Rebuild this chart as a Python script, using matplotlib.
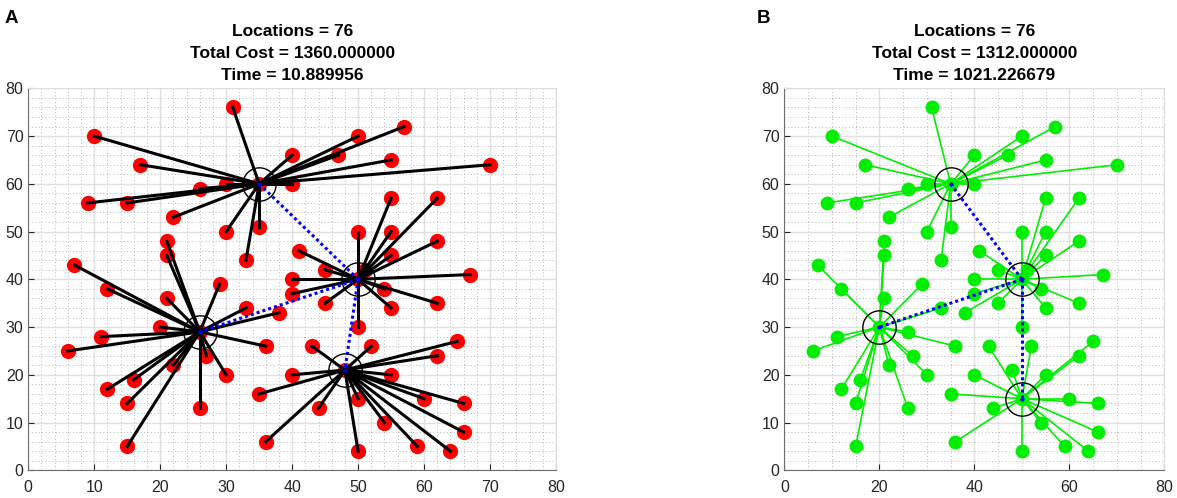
import matplotlib
matplotlib.use('Agg')
import matplotlib.pyplot as plt
from matplotlib.ticker import MultipleLocator

plt.rcParams['font.family'] = ['Liberation Sans', 'DejaVu Sans']

# Customer locations (same in both panels)
loc_x = [31, 10, 17, 9, 15, 26, 30, 35, 22, 30, 35, 33, 21, 21, 7, 40, 40, 41, 29, 40,
         50, 57, 47, 55, 70, 55, 62, 50, 55, 62, 55, 45, 67, 50, 54, 12, 21, 33, 38, 40,
         20, 11, 6, 26, 36, 27, 22, 30, 16, 12, 15, 26, 15, 35, 40, 36, 45, 55, 62, 50,
         43, 52, 65, 62, 48, 55, 50, 60, 66, 44, 54, 66, 59, 64, 50, 51]
loc_y = [76, 70, 64, 56, 56, 59, 60, 60, 53, 50, 51, 44, 48, 45, 43, 66, 60, 46, 39, 40,
         70, 72, 66, 65, 64, 57, 57, 50, 50, 48, 45, 42, 41, 40, 38, 38, 36, 34, 33, 37,
         30, 28, 25, 29, 26, 24, 22, 20, 19, 17, 14, 13, 5, 16, 20, 6, 35, 34, 35, 30,
         26, 26, 27, 24, 21, 20, 15, 15, 14, 13, 10, 8, 5, 4, 4, 42]

# Panel A: facilities and assignment (index into facility list)
fac_a_x = [35, 50, 26, 48]
fac_a_y = [60, 40, 29, 21]
assign_a = [0, 0, 0, 0, 0, 0, 0, 0, 0, 0, 0, 0, 2, 2, 2, 0, 0, 1, 2, 1,
            0, 0, 0, 0, 0, 1, 1, 1, 1, 1, 1, 1, 1, 1, 1, 2, 2, 2, 2, 1,
            2, 2, 2, 2, 2, 2, 2, 2, 2, 2, 2, 2, 2, 3, 3, 3, 1, 1, 1, 1,
            3, 3, 3, 3, 3, 3, 3, 3, 3, 3, 3, 3, 3, 3, 3, 1]
title_a = 'Locations = 76\nTotal Cost = 1360.000000\nTime = 10.889956'

# Panel B
fac_b_x = [35, 50, 20, 50]
fac_b_y = [60, 40, 30, 15]
assign_b = [0, 0, 0, 0, 0, 0, 0, 0, 0, 0, 0, 0, 2, 2, 2, 0, 0, 1, 2, 1,
            0, 0, 0, 0, 0, 1, 1, 1, 1, 1, 1, 1, 1, 1, 1, 2, 2, 2, 1, 1,
            2, 2, 2, 2, 2, 2, 2, 2, 2, 2, 2, 2, 2, 3, 3, 3, 1, 1, 1, 1,
            3, 3, 3, 3, 3, 3, 3, 3, 3, 3, 3, 3, 3, 3, 3, 1]
title_b = 'Locations = 76\nTotal Cost = 1312.000000\nTime = 1021.226679'

# backbone: every facility linked to the central one
center_idx = 1


def style_axes(ax, xstep, xminor):
    ax.set_xlim(0, 80)
    ax.set_ylim(0, 80)
    ax.xaxis.set_major_locator(MultipleLocator(xstep))
    ax.yaxis.set_major_locator(MultipleLocator(10))
    ax.xaxis.set_minor_locator(MultipleLocator(xminor))
    ax.yaxis.set_minor_locator(MultipleLocator(2))
    ax.grid(which='major', color='#e0e0e0', linewidth=1.0)
    ax.grid(which='minor', color='#b4b4b4', linestyle=(0, (1, 2.5)), linewidth=0.7)
    ax.set_axisbelow(True)
    ax.tick_params(which='both', direction='in', top=False, right=False,
                   labelsize=11.5, colors='#262626', length=4)
    ax.tick_params(axis='x', pad=7)
    ax.tick_params(which='minor', length=0)
    for side in ['left', 'bottom']:
        ax.spines[side].set_color('#6e6e6e')
    for side in ['top', 'right']:
        ax.spines[side].set_color('#dcdcdc')


def draw_panel(ax, fac_x, fac_y, assign, dot_color, line_color, line_w, dot_size, title):
    ax.plot(loc_x, loc_y, 'o', color=dot_color, markersize=dot_size,
            markeredgewidth=0, zorder=2)
    for i in range(len(loc_x)):
        h = assign[i]
        ax.plot([loc_x[i], fac_x[h]], [loc_y[i], fac_y[h]], '-',
                color=line_color, linewidth=line_w, zorder=3)
    for h in range(len(fac_x)):
        if h == center_idx:
            continue
        ax.plot([fac_x[center_idx], fac_x[h]], [fac_y[center_idx], fac_y[h]],
                linestyle=(0, (1, 1)), color='#0000ff', linewidth=2.2, zorder=4)
    ax.plot(fac_x, fac_y, 'o', markersize=24, markerfacecolor='none',
            markeredgecolor='black', markeredgewidth=1.0, zorder=5)
    ax.plot(fac_x, fac_y, '.', color='#0000ff', markersize=4, zorder=6)
    ax.set_title(title, fontsize=12.5, fontweight='bold', pad=6, linespacing=1.6)


fig = plt.figure(figsize=(11.77, 4.98), dpi=100)
ax1 = fig.add_axes([0.024, 0.0556, 0.4484, 0.767])
ax2 = fig.add_axes([0.6664, 0.0556, 0.3229, 0.767])

style_axes(ax1, 10, 2)
style_axes(ax2, 20, 5)

draw_panel(ax1, fac_a_x, fac_a_y, assign_a, '#ff0000', 'black', 2.2, 11, title_a)
draw_panel(ax2, fac_b_x, fac_b_y, assign_b, '#00ee00', '#00ee00', 1.2, 10, title_b)

fig.text(0.004, 0.962, 'A', fontsize=13.5, fontweight='bold', va='center')
fig.text(0.643, 0.962, 'B', fontsize=13.5, fontweight='bold', va='center')

fig.savefig('out.png', dpi=100)
